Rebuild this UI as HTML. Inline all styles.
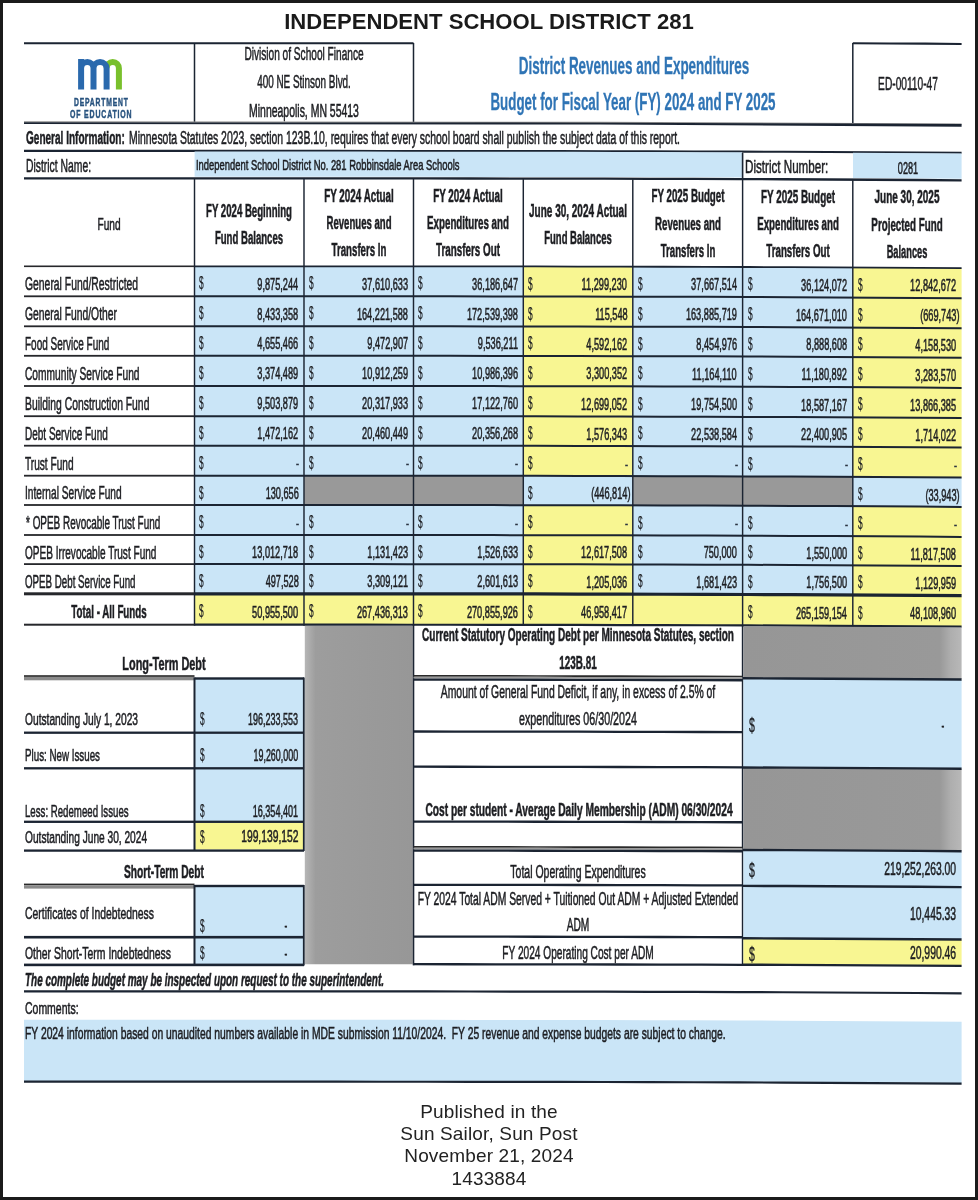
<!DOCTYPE html>
<html lang="en"><head><meta charset="utf-8"><title>Independent School District 281</title>
<style>
html,body{margin:0;padding:0;background:#fff;}
body{width:978px;height:1200px;position:relative;overflow:hidden;font-family:"Liberation Sans",sans-serif;color:#1d1e22;}
#frame{position:absolute;left:0;top:0;width:978px;height:1200px;box-sizing:border-box;border:3px solid #1b1b1b;z-index:5;pointer-events:none}
#scan{position:absolute;left:0;top:0;width:978px;height:1200px;filter:blur(0.4px)}
.r{position:absolute}
.t{position:absolute;white-space:pre;display:block;-webkit-text-stroke:0.55px currentColor}
.pt{position:absolute;left:0;width:978px;text-align:center;color:#1a1a1a;filter:blur(0.25px)}
</style></head><body>
<div id="frame"></div>
<div class="pt" style="top:8.5px;font-size:22.1px;line-height:26px;font-weight:bold">INDEPENDENT SCHOOL DISTRICT 281</div>
<div id="scan">
<svg class="r" style="left:0;top:0" width="978" height="1200" viewBox="0 0 978 1200">
<defs>
<linearGradient id="gL" x1="0" y1="0" x2="1" y2="0"><stop offset="0" stop-color="#b6b6b6"/><stop offset="0.1" stop-color="#9d9d9d"/><stop offset="1" stop-color="#979797"/></linearGradient>
<linearGradient id="gR" x1="0" y1="0" x2="1" y2="0"><stop offset="0" stop-color="#969696"/><stop offset="0.9" stop-color="#999999"/><stop offset="0.95" stop-color="#aeaeae"/><stop offset="1" stop-color="#b8b8b8"/></linearGradient>
</defs>
<polygon points="24.0,42.20 67.3,42.20 110.6,42.20 153.8,42.20 197.1,42.20 240.4,42.20 283.7,42.20 326.9,42.21 370.2,42.22 413.5,42.24 413.5,44.24 370.2,44.22 326.9,44.21 283.7,44.20 240.4,44.20 197.1,44.20 153.8,44.20 110.6,44.20 67.3,44.20 24.0,44.20" fill="#1b2432"/>
<polygon points="852.8,42.17 889.1,42.39 925.3,42.62 961.6,42.88 961.6,45.08 925.3,44.82 889.1,44.59 852.8,44.37" fill="#1b2432"/>
<rect x="193.75" y="43.00" width="1.50" height="79.00" fill="#1b2432"/>
<rect x="412.75" y="43.00" width="1.50" height="79.00" fill="#1b2432"/>
<rect x="852.05" y="43.00" width="1.50" height="81.00" fill="#1b2432"/>
<polygon points="24,121.3 600,121.8 961.6,123.4 961.6,124.6 600,123.0 24,122.5" fill="#8d8d8d"/>
<polygon points="24,122.2 600,122.7 961.6,123.9 961.6,126.7 600,124.5 24,123.9" fill="#1b2432"/>
<polygon points="24.0,149.85 68.6,149.85 113.3,149.85 157.9,149.85 202.6,149.85 247.2,149.85 291.9,149.85 336.5,149.86 381.2,149.88 425.8,149.90 470.5,149.94 515.1,149.99 559.8,150.06 604.4,150.14 649.1,150.25 693.7,150.38 738.4,150.54 783.0,150.72 827.7,150.93 872.3,151.18 917.0,151.46 961.6,151.77 961.6,153.87 917.0,153.56 872.3,153.28 827.7,153.03 783.0,152.82 738.4,152.64 693.7,152.48 649.1,152.35 604.4,152.24 559.8,152.16 515.1,152.09 470.5,152.04 425.8,152.00 381.2,151.98 336.5,151.96 291.9,151.95 247.2,151.95 202.6,151.95 157.9,151.95 113.3,151.95 68.6,151.95 24.0,151.95" fill="#1b2432"/>
<polygon points="194.6,151.60 236.7,151.60 278.8,151.60 320.9,151.61 363.0,151.62 405.1,151.64 447.2,151.67 489.4,151.71 531.5,151.76 573.6,151.83 615.7,151.92 657.8,152.02 699.9,152.15 742.0,152.30 742.0,177.50 699.9,177.35 657.8,177.22 615.7,177.12 573.6,177.03 531.5,176.96 489.4,176.91 447.2,176.87 405.1,176.84 363.0,176.82 320.9,176.81 278.8,176.80 236.7,176.80 194.6,176.80" fill="#cae5f7"/>
<polygon points="853.0,152.82 889.2,153.03 925.4,153.26 961.6,153.52 961.6,178.72 925.4,178.46 889.2,178.23 853.0,178.02" fill="#cae5f7"/>
<rect x="741.80" y="153.00" width="1.60" height="26.00" fill="#1b2432"/>
<polygon points="24.0,177.25 68.6,177.25 113.3,177.25 157.9,177.25 202.6,177.25 247.2,177.25 291.9,177.25 336.5,177.26 381.2,177.28 425.8,177.30 470.5,177.34 515.1,177.39 559.8,177.46 604.4,177.54 649.1,177.65 693.7,177.78 738.4,177.94 783.0,178.12 827.7,178.33 872.3,178.58 917.0,178.86 961.6,179.17 961.6,181.47 917.0,181.16 872.3,180.88 827.7,180.63 783.0,180.42 738.4,180.24 693.7,180.08 649.1,179.95 604.4,179.84 559.8,179.76 515.1,179.69 470.5,179.64 425.8,179.60 381.2,179.58 336.5,179.56 291.9,179.55 247.2,179.55 202.6,179.55 157.9,179.55 113.3,179.55 68.6,179.55 24.0,179.55" fill="#1b2432"/>
<rect x="194.50" y="266.30" width="109.50" height="30.00" fill="#cae5f7"/>
<polygon points="304.0,266.31 340.5,266.31 377.0,266.33 413.5,266.34 413.5,296.34 377.0,296.33 340.5,296.31 304.0,296.31" fill="#cae5f7"/>
<polygon points="413.5,266.34 450.1,266.37 486.7,266.41 523.3,266.45 523.3,296.45 486.7,296.41 450.1,296.37 413.5,296.34" fill="#cae5f7"/>
<polygon points="523.3,266.45 559.8,266.51 596.3,266.58 632.8,266.66 632.8,296.66 596.3,296.58 559.8,296.51 523.3,296.45" fill="#f8f692"/>
<polygon points="632.8,266.66 669.4,266.76 706.0,266.87 742.6,267.00 742.6,297.00 706.0,296.87 669.4,296.76 632.8,296.66" fill="#cae5f7"/>
<polygon points="742.6,267.00 779.3,267.15 816.1,267.32 852.8,267.52 852.8,297.52 816.1,297.32 779.3,297.15 742.6,297.00" fill="#cae5f7"/>
<polygon points="852.8,267.52 889.1,267.73 925.3,267.96 961.6,268.22 961.6,298.22 925.3,297.96 889.1,297.73 852.8,297.52" fill="#f8f692"/>
<rect x="194.50" y="296.30" width="109.50" height="30.00" fill="#cae5f7"/>
<polygon points="304.0,296.31 340.5,296.31 377.0,296.33 413.5,296.34 413.5,326.34 377.0,326.33 340.5,326.31 304.0,326.31" fill="#cae5f7"/>
<polygon points="413.5,296.34 450.1,296.37 486.7,296.41 523.3,296.45 523.3,326.45 486.7,326.41 450.1,326.37 413.5,326.34" fill="#cae5f7"/>
<polygon points="523.3,296.45 559.8,296.51 596.3,296.58 632.8,296.66 632.8,326.66 596.3,326.58 559.8,326.51 523.3,326.45" fill="#f8f692"/>
<polygon points="632.8,296.66 669.4,296.76 706.0,296.87 742.6,297.00 742.6,327.00 706.0,326.87 669.4,326.76 632.8,326.66" fill="#cae5f7"/>
<polygon points="742.6,297.00 779.3,297.15 816.1,297.32 852.8,297.52 852.8,327.52 816.1,327.32 779.3,327.15 742.6,327.00" fill="#cae5f7"/>
<polygon points="852.8,297.52 889.1,297.73 925.3,297.96 961.6,298.22 961.6,328.22 925.3,327.96 889.1,327.73 852.8,327.52" fill="#f8f692"/>
<rect x="194.50" y="326.30" width="109.50" height="29.50" fill="#cae5f7"/>
<polygon points="304.0,326.31 340.5,326.31 377.0,326.33 413.5,326.34 413.5,355.84 377.0,355.83 340.5,355.81 304.0,355.81" fill="#cae5f7"/>
<polygon points="413.5,326.34 450.1,326.37 486.7,326.41 523.3,326.45 523.3,355.95 486.7,355.91 450.1,355.87 413.5,355.84" fill="#cae5f7"/>
<polygon points="523.3,326.45 559.8,326.51 596.3,326.58 632.8,326.66 632.8,356.16 596.3,356.08 559.8,356.01 523.3,355.95" fill="#f8f692"/>
<polygon points="632.8,326.66 669.4,326.76 706.0,326.87 742.6,327.00 742.6,356.50 706.0,356.37 669.4,356.26 632.8,356.16" fill="#cae5f7"/>
<polygon points="742.6,327.00 779.3,327.15 816.1,327.32 852.8,327.52 852.8,357.02 816.1,356.82 779.3,356.65 742.6,356.50" fill="#cae5f7"/>
<polygon points="852.8,327.52 889.1,327.73 925.3,327.96 961.6,328.22 961.6,357.72 925.3,357.46 889.1,357.23 852.8,357.02" fill="#f8f692"/>
<rect x="194.50" y="355.80" width="109.50" height="30.20" fill="#cae5f7"/>
<polygon points="304.0,355.81 340.5,355.81 377.0,355.83 413.5,355.84 413.5,386.04 377.0,386.03 340.5,386.01 304.0,386.01" fill="#cae5f7"/>
<polygon points="413.5,355.84 450.1,355.87 486.7,355.91 523.3,355.95 523.3,386.15 486.7,386.11 450.1,386.07 413.5,386.04" fill="#cae5f7"/>
<polygon points="523.3,355.95 559.8,356.01 596.3,356.08 632.8,356.16 632.8,386.36 596.3,386.28 559.8,386.21 523.3,386.15" fill="#f8f692"/>
<polygon points="632.8,356.16 669.4,356.26 706.0,356.37 742.6,356.50 742.6,386.70 706.0,386.57 669.4,386.46 632.8,386.36" fill="#cae5f7"/>
<polygon points="742.6,356.50 779.3,356.65 816.1,356.82 852.8,357.02 852.8,387.22 816.1,387.02 779.3,386.85 742.6,386.70" fill="#cae5f7"/>
<polygon points="852.8,357.02 889.1,357.23 925.3,357.46 961.6,357.72 961.6,387.92 925.3,387.66 889.1,387.43 852.8,387.22" fill="#f8f692"/>
<rect x="194.50" y="386.00" width="109.50" height="30.20" fill="#cae5f7"/>
<polygon points="304.0,386.01 340.5,386.01 377.0,386.03 413.5,386.04 413.5,416.24 377.0,416.23 340.5,416.21 304.0,416.21" fill="#cae5f7"/>
<polygon points="413.5,386.04 450.1,386.07 486.7,386.11 523.3,386.15 523.3,416.35 486.7,416.31 450.1,416.27 413.5,416.24" fill="#cae5f7"/>
<polygon points="523.3,386.15 559.8,386.21 596.3,386.28 632.8,386.36 632.8,416.56 596.3,416.48 559.8,416.41 523.3,416.35" fill="#f8f692"/>
<polygon points="632.8,386.36 669.4,386.46 706.0,386.57 742.6,386.70 742.6,416.90 706.0,416.77 669.4,416.66 632.8,416.56" fill="#cae5f7"/>
<polygon points="742.6,386.70 779.3,386.85 816.1,387.02 852.8,387.22 852.8,417.42 816.1,417.22 779.3,417.05 742.6,416.90" fill="#cae5f7"/>
<polygon points="852.8,387.22 889.1,387.43 925.3,387.66 961.6,387.92 961.6,418.12 925.3,417.86 889.1,417.63 852.8,417.42" fill="#f8f692"/>
<rect x="194.50" y="416.20" width="109.50" height="29.50" fill="#cae5f7"/>
<polygon points="304.0,416.21 340.5,416.21 377.0,416.23 413.5,416.24 413.5,445.74 377.0,445.73 340.5,445.71 304.0,445.71" fill="#cae5f7"/>
<polygon points="413.5,416.24 450.1,416.27 486.7,416.31 523.3,416.35 523.3,445.85 486.7,445.81 450.1,445.77 413.5,445.74" fill="#cae5f7"/>
<polygon points="523.3,416.35 559.8,416.41 596.3,416.48 632.8,416.56 632.8,446.06 596.3,445.98 559.8,445.91 523.3,445.85" fill="#f8f692"/>
<polygon points="632.8,416.56 669.4,416.66 706.0,416.77 742.6,416.90 742.6,446.40 706.0,446.27 669.4,446.16 632.8,446.06" fill="#cae5f7"/>
<polygon points="742.6,416.90 779.3,417.05 816.1,417.22 852.8,417.42 852.8,446.92 816.1,446.72 779.3,446.55 742.6,446.40" fill="#cae5f7"/>
<polygon points="852.8,417.42 889.1,417.63 925.3,417.86 961.6,418.12 961.6,447.62 925.3,447.36 889.1,447.13 852.8,446.92" fill="#f8f692"/>
<rect x="194.50" y="445.70" width="109.50" height="30.00" fill="#cae5f7"/>
<polygon points="304.0,445.71 340.5,445.71 377.0,445.73 413.5,445.74 413.5,475.74 377.0,475.73 340.5,475.71 304.0,475.71" fill="#cae5f7"/>
<polygon points="413.5,445.74 450.1,445.77 486.7,445.81 523.3,445.85 523.3,475.85 486.7,475.81 450.1,475.77 413.5,475.74" fill="#cae5f7"/>
<polygon points="523.3,445.85 559.8,445.91 596.3,445.98 632.8,446.06 632.8,476.06 596.3,475.98 559.8,475.91 523.3,475.85" fill="#f8f692"/>
<polygon points="632.8,446.06 669.4,446.16 706.0,446.27 742.6,446.40 742.6,476.40 706.0,476.27 669.4,476.16 632.8,476.06" fill="#cae5f7"/>
<polygon points="742.6,446.40 779.3,446.55 816.1,446.72 852.8,446.92 852.8,476.92 816.1,476.72 779.3,476.55 742.6,476.40" fill="#cae5f7"/>
<polygon points="852.8,446.92 889.1,447.13 925.3,447.36 961.6,447.62 961.6,477.62 925.3,477.36 889.1,477.13 852.8,476.92" fill="#f8f692"/>
<rect x="194.50" y="475.70" width="109.50" height="29.30" fill="#cae5f7"/>
<polygon points="304.0,475.71 340.5,475.71 377.0,475.73 413.5,475.74 413.5,505.04 377.0,505.03 340.5,505.01 304.0,505.01" fill="#999999"/>
<polygon points="413.5,475.74 450.1,475.77 486.7,475.81 523.3,475.85 523.3,505.15 486.7,505.11 450.1,505.07 413.5,505.04" fill="#999999"/>
<polygon points="523.3,475.85 559.8,475.91 596.3,475.98 632.8,476.06 632.8,505.36 596.3,505.28 559.8,505.21 523.3,505.15" fill="#cae5f7"/>
<polygon points="632.8,476.06 669.4,476.16 706.0,476.27 742.6,476.40 742.6,505.70 706.0,505.57 669.4,505.46 632.8,505.36" fill="#999999"/>
<polygon points="742.6,476.40 779.3,476.55 816.1,476.72 852.8,476.92 852.8,506.22 816.1,506.02 779.3,505.85 742.6,505.70" fill="#999999"/>
<polygon points="852.8,476.92 889.1,477.13 925.3,477.36 961.6,477.62 961.6,506.92 925.3,506.66 889.1,506.43 852.8,506.22" fill="#cae5f7"/>
<rect x="194.50" y="505.00" width="109.50" height="30.00" fill="#cae5f7"/>
<polygon points="304.0,505.01 340.5,505.01 377.0,505.03 413.5,505.04 413.5,535.04 377.0,535.03 340.5,535.01 304.0,535.01" fill="#cae5f7"/>
<polygon points="413.5,505.04 450.1,505.07 486.7,505.11 523.3,505.15 523.3,535.15 486.7,535.11 450.1,535.07 413.5,535.04" fill="#cae5f7"/>
<polygon points="523.3,505.15 559.8,505.21 596.3,505.28 632.8,505.36 632.8,535.36 596.3,535.28 559.8,535.21 523.3,535.15" fill="#f8f692"/>
<polygon points="632.8,505.36 669.4,505.46 706.0,505.57 742.6,505.70 742.6,535.70 706.0,535.57 669.4,535.46 632.8,535.36" fill="#cae5f7"/>
<polygon points="742.6,505.70 779.3,505.85 816.1,506.02 852.8,506.22 852.8,536.22 816.1,536.02 779.3,535.85 742.6,535.70" fill="#cae5f7"/>
<polygon points="852.8,506.22 889.1,506.43 925.3,506.66 961.6,506.92 961.6,536.92 925.3,536.66 889.1,536.43 852.8,536.22" fill="#f8f692"/>
<rect x="194.50" y="535.00" width="109.50" height="29.10" fill="#cae5f7"/>
<polygon points="304.0,535.01 340.5,535.01 377.0,535.03 413.5,535.04 413.5,564.14 377.0,564.13 340.5,564.11 304.0,564.11" fill="#cae5f7"/>
<polygon points="413.5,535.04 450.1,535.07 486.7,535.11 523.3,535.15 523.3,564.25 486.7,564.21 450.1,564.17 413.5,564.14" fill="#cae5f7"/>
<polygon points="523.3,535.15 559.8,535.21 596.3,535.28 632.8,535.36 632.8,564.46 596.3,564.38 559.8,564.31 523.3,564.25" fill="#f8f692"/>
<polygon points="632.8,535.36 669.4,535.46 706.0,535.57 742.6,535.70 742.6,564.80 706.0,564.67 669.4,564.56 632.8,564.46" fill="#cae5f7"/>
<polygon points="742.6,535.70 779.3,535.85 816.1,536.02 852.8,536.22 852.8,565.32 816.1,565.12 779.3,564.95 742.6,564.80" fill="#cae5f7"/>
<polygon points="852.8,536.22 889.1,536.43 925.3,536.66 961.6,536.92 961.6,566.02 925.3,565.76 889.1,565.53 852.8,565.32" fill="#f8f692"/>
<rect x="194.50" y="564.10" width="109.50" height="29.70" fill="#cae5f7"/>
<polygon points="304.0,564.11 340.5,564.11 377.0,564.13 413.5,564.14 413.5,593.84 377.0,593.83 340.5,593.81 304.0,593.81" fill="#cae5f7"/>
<polygon points="413.5,564.14 450.1,564.17 486.7,564.21 523.3,564.25 523.3,593.95 486.7,593.91 450.1,593.87 413.5,593.84" fill="#cae5f7"/>
<polygon points="523.3,564.25 559.8,564.31 596.3,564.38 632.8,564.46 632.8,594.16 596.3,594.08 559.8,594.01 523.3,593.95" fill="#f8f692"/>
<polygon points="632.8,564.46 669.4,564.56 706.0,564.67 742.6,564.80 742.6,594.50 706.0,594.37 669.4,594.26 632.8,594.16" fill="#cae5f7"/>
<polygon points="742.6,564.80 779.3,564.95 816.1,565.12 852.8,565.32 852.8,595.02 816.1,594.82 779.3,594.65 742.6,594.50" fill="#cae5f7"/>
<polygon points="852.8,565.32 889.1,565.53 925.3,565.76 961.6,566.02 961.6,595.72 925.3,595.46 889.1,595.23 852.8,595.02" fill="#f8f692"/>
<rect x="194.50" y="593.80" width="109.50" height="30.90" fill="#f8f692"/>
<polygon points="304.0,593.81 340.5,593.81 377.0,593.83 413.5,593.84 413.5,624.74 377.0,624.73 340.5,624.71 304.0,624.71" fill="#f8f692"/>
<polygon points="413.5,593.84 450.1,593.87 486.7,593.91 523.3,593.95 523.3,624.85 486.7,624.81 450.1,624.77 413.5,624.74" fill="#f8f692"/>
<polygon points="523.3,593.95 559.8,594.01 596.3,594.08 632.8,594.16 632.8,625.06 596.3,624.98 559.8,624.91 523.3,624.85" fill="#f8f692"/>
<polygon points="632.8,594.16 669.4,594.26 706.0,594.37 742.6,594.50 742.6,625.40 706.0,625.27 669.4,625.16 632.8,625.06" fill="#f8f692"/>
<polygon points="742.6,594.50 779.3,594.65 816.1,594.82 852.8,595.02 852.8,625.92 816.1,625.72 779.3,625.55 742.6,625.40" fill="#f8f692"/>
<polygon points="852.8,595.02 889.1,595.23 925.3,595.46 961.6,595.72 961.6,626.62 925.3,626.36 889.1,626.13 852.8,625.92" fill="#f8f692"/>
<rect x="24.00" y="265.50" width="170.50" height="1.60" fill="#26272b"/>
<polygon points="194.5,265.40 237.1,265.40 279.7,265.40 322.4,265.41 365.0,265.42 407.6,265.44 450.2,265.47 492.8,265.51 535.4,265.57 578.0,265.64 620.7,265.73 663.3,265.84 705.9,265.97 748.5,266.12 791.1,266.30 833.8,266.51 876.4,266.75 919.0,267.02 961.6,267.32 961.6,269.12 919.0,268.82 876.4,268.55 833.8,268.31 791.1,268.10 748.5,267.92 705.9,267.77 663.3,267.64 620.7,267.53 578.0,267.44 535.4,267.37 492.8,267.31 450.2,267.27 407.6,267.24 365.0,267.22 322.4,267.21 279.7,267.20 237.1,267.20 194.5,267.20" fill="#1b2432"/>
<rect x="24.00" y="295.40" width="170.50" height="1.80" fill="#26272b"/>
<polygon points="194.5,295.30 237.1,295.30 279.7,295.30 322.4,295.31 365.0,295.32 407.6,295.34 450.2,295.37 492.8,295.41 535.4,295.47 578.0,295.54 620.7,295.63 663.3,295.74 705.9,295.87 748.5,296.02 791.1,296.20 833.8,296.41 876.4,296.65 919.0,296.92 961.6,297.22 961.6,299.22 919.0,298.92 876.4,298.65 833.8,298.41 791.1,298.20 748.5,298.02 705.9,297.87 663.3,297.74 620.7,297.63 578.0,297.54 535.4,297.47 492.8,297.41 450.2,297.37 407.6,297.34 365.0,297.32 322.4,297.31 279.7,297.30 237.1,297.30 194.5,297.30" fill="#1b2432"/>
<rect x="24.00" y="325.40" width="170.50" height="1.80" fill="#26272b"/>
<polygon points="194.5,325.30 237.1,325.30 279.7,325.30 322.4,325.31 365.0,325.32 407.6,325.34 450.2,325.37 492.8,325.41 535.4,325.47 578.0,325.54 620.7,325.63 663.3,325.74 705.9,325.87 748.5,326.02 791.1,326.20 833.8,326.41 876.4,326.65 919.0,326.92 961.6,327.22 961.6,329.22 919.0,328.92 876.4,328.65 833.8,328.41 791.1,328.20 748.5,328.02 705.9,327.87 663.3,327.74 620.7,327.63 578.0,327.54 535.4,327.47 492.8,327.41 450.2,327.37 407.6,327.34 365.0,327.32 322.4,327.31 279.7,327.30 237.1,327.30 194.5,327.30" fill="#1b2432"/>
<rect x="24.00" y="354.90" width="170.50" height="1.80" fill="#26272b"/>
<polygon points="194.5,354.80 237.1,354.80 279.7,354.80 322.4,354.81 365.0,354.82 407.6,354.84 450.2,354.87 492.8,354.91 535.4,354.97 578.0,355.04 620.7,355.13 663.3,355.24 705.9,355.37 748.5,355.52 791.1,355.70 833.8,355.91 876.4,356.15 919.0,356.42 961.6,356.72 961.6,358.72 919.0,358.42 876.4,358.15 833.8,357.91 791.1,357.70 748.5,357.52 705.9,357.37 663.3,357.24 620.7,357.13 578.0,357.04 535.4,356.97 492.8,356.91 450.2,356.87 407.6,356.84 365.0,356.82 322.4,356.81 279.7,356.80 237.1,356.80 194.5,356.80" fill="#1b2432"/>
<rect x="24.00" y="385.10" width="170.50" height="1.80" fill="#26272b"/>
<polygon points="194.5,385.00 237.1,385.00 279.7,385.00 322.4,385.01 365.0,385.02 407.6,385.04 450.2,385.07 492.8,385.11 535.4,385.17 578.0,385.24 620.7,385.33 663.3,385.44 705.9,385.57 748.5,385.72 791.1,385.90 833.8,386.11 876.4,386.35 919.0,386.62 961.6,386.92 961.6,388.92 919.0,388.62 876.4,388.35 833.8,388.11 791.1,387.90 748.5,387.72 705.9,387.57 663.3,387.44 620.7,387.33 578.0,387.24 535.4,387.17 492.8,387.11 450.2,387.07 407.6,387.04 365.0,387.02 322.4,387.01 279.7,387.00 237.1,387.00 194.5,387.00" fill="#1b2432"/>
<rect x="24.00" y="415.30" width="170.50" height="1.80" fill="#26272b"/>
<polygon points="194.5,415.20 237.1,415.20 279.7,415.20 322.4,415.21 365.0,415.22 407.6,415.24 450.2,415.27 492.8,415.31 535.4,415.37 578.0,415.44 620.7,415.53 663.3,415.64 705.9,415.77 748.5,415.92 791.1,416.10 833.8,416.31 876.4,416.55 919.0,416.82 961.6,417.12 961.6,419.12 919.0,418.82 876.4,418.55 833.8,418.31 791.1,418.10 748.5,417.92 705.9,417.77 663.3,417.64 620.7,417.53 578.0,417.44 535.4,417.37 492.8,417.31 450.2,417.27 407.6,417.24 365.0,417.22 322.4,417.21 279.7,417.20 237.1,417.20 194.5,417.20" fill="#1b2432"/>
<rect x="24.00" y="444.80" width="170.50" height="1.80" fill="#26272b"/>
<polygon points="194.5,444.70 237.1,444.70 279.7,444.70 322.4,444.71 365.0,444.72 407.6,444.74 450.2,444.77 492.8,444.81 535.4,444.87 578.0,444.94 620.7,445.03 663.3,445.14 705.9,445.27 748.5,445.42 791.1,445.60 833.8,445.81 876.4,446.05 919.0,446.32 961.6,446.62 961.6,448.62 919.0,448.32 876.4,448.05 833.8,447.81 791.1,447.60 748.5,447.42 705.9,447.27 663.3,447.14 620.7,447.03 578.0,446.94 535.4,446.87 492.8,446.81 450.2,446.77 407.6,446.74 365.0,446.72 322.4,446.71 279.7,446.70 237.1,446.70 194.5,446.70" fill="#1b2432"/>
<rect x="24.00" y="474.80" width="170.50" height="1.80" fill="#26272b"/>
<polygon points="194.5,474.70 237.1,474.70 279.7,474.70 322.4,474.71 365.0,474.72 407.6,474.74 450.2,474.77 492.8,474.81 535.4,474.87 578.0,474.94 620.7,475.03 663.3,475.14 705.9,475.27 748.5,475.42 791.1,475.60 833.8,475.81 876.4,476.05 919.0,476.32 961.6,476.62 961.6,478.62 919.0,478.32 876.4,478.05 833.8,477.81 791.1,477.60 748.5,477.42 705.9,477.27 663.3,477.14 620.7,477.03 578.0,476.94 535.4,476.87 492.8,476.81 450.2,476.77 407.6,476.74 365.0,476.72 322.4,476.71 279.7,476.70 237.1,476.70 194.5,476.70" fill="#1b2432"/>
<rect x="24.00" y="504.10" width="170.50" height="1.80" fill="#26272b"/>
<polygon points="194.5,504.00 237.1,504.00 279.7,504.00 322.4,504.01 365.0,504.02 407.6,504.04 450.2,504.07 492.8,504.11 535.4,504.17 578.0,504.24 620.7,504.33 663.3,504.44 705.9,504.57 748.5,504.72 791.1,504.90 833.8,505.11 876.4,505.35 919.0,505.62 961.6,505.92 961.6,507.92 919.0,507.62 876.4,507.35 833.8,507.11 791.1,506.90 748.5,506.72 705.9,506.57 663.3,506.44 620.7,506.33 578.0,506.24 535.4,506.17 492.8,506.11 450.2,506.07 407.6,506.04 365.0,506.02 322.4,506.01 279.7,506.00 237.1,506.00 194.5,506.00" fill="#1b2432"/>
<rect x="24.00" y="534.10" width="170.50" height="1.80" fill="#26272b"/>
<polygon points="194.5,534.00 237.1,534.00 279.7,534.00 322.4,534.01 365.0,534.02 407.6,534.04 450.2,534.07 492.8,534.11 535.4,534.17 578.0,534.24 620.7,534.33 663.3,534.44 705.9,534.57 748.5,534.72 791.1,534.90 833.8,535.11 876.4,535.35 919.0,535.62 961.6,535.92 961.6,537.92 919.0,537.62 876.4,537.35 833.8,537.11 791.1,536.90 748.5,536.72 705.9,536.57 663.3,536.44 620.7,536.33 578.0,536.24 535.4,536.17 492.8,536.11 450.2,536.07 407.6,536.04 365.0,536.02 322.4,536.01 279.7,536.00 237.1,536.00 194.5,536.00" fill="#1b2432"/>
<rect x="24.00" y="563.20" width="170.50" height="1.80" fill="#26272b"/>
<polygon points="194.5,563.10 237.1,563.10 279.7,563.10 322.4,563.11 365.0,563.12 407.6,563.14 450.2,563.17 492.8,563.21 535.4,563.27 578.0,563.34 620.7,563.43 663.3,563.54 705.9,563.67 748.5,563.82 791.1,564.00 833.8,564.21 876.4,564.45 919.0,564.72 961.6,565.02 961.6,567.02 919.0,566.72 876.4,566.45 833.8,566.21 791.1,566.00 748.5,565.82 705.9,565.67 663.3,565.54 620.7,565.43 578.0,565.34 535.4,565.27 492.8,565.21 450.2,565.17 407.6,565.14 365.0,565.12 322.4,565.11 279.7,565.10 237.1,565.10 194.5,565.10" fill="#1b2432"/>
<rect x="24.00" y="592.30" width="170.50" height="3.00" fill="#26272b"/>
<polygon points="194.5,592.20 237.1,592.20 279.7,592.20 322.4,592.21 365.0,592.22 407.6,592.24 450.2,592.27 492.8,592.31 535.4,592.37 578.0,592.44 620.7,592.53 663.3,592.64 705.9,592.77 748.5,592.92 791.1,593.10 833.8,593.31 876.4,593.55 919.0,593.82 961.6,594.12 961.6,597.32 919.0,597.02 876.4,596.75 833.8,596.51 791.1,596.30 748.5,596.12 705.9,595.97 663.3,595.84 620.7,595.73 578.0,595.64 535.4,595.57 492.8,595.51 450.2,595.47 407.6,595.44 365.0,595.42 322.4,595.41 279.7,595.40 237.1,595.40 194.5,595.40" fill="#1b2432"/>
<rect x="24.00" y="623.70" width="170.50" height="2.00" fill="#26272b"/>
<polygon points="194.5,623.60 237.1,623.60 279.7,623.60 322.4,623.61 365.0,623.62 407.6,623.64 450.2,623.67 492.8,623.71 535.4,623.77 578.0,623.84 620.7,623.93 663.3,624.04 705.9,624.17 748.5,624.32 791.1,624.50 833.8,624.71 876.4,624.95 919.0,625.22 961.6,625.52 961.6,627.72 919.0,627.42 876.4,627.15 833.8,626.91 791.1,626.70 748.5,626.52 705.9,626.37 663.3,626.24 620.7,626.13 578.0,626.04 535.4,625.97 492.8,625.91 450.2,625.87 407.6,625.84 365.0,625.82 322.4,625.81 279.7,625.80 237.1,625.80 194.5,625.80" fill="#1b2432"/>
<rect x="193.78" y="179.00" width="1.45" height="446.70" fill="#1b2432"/>
<rect x="303.27" y="179.01" width="1.45" height="446.70" fill="#1b2432"/>
<rect x="412.77" y="179.04" width="1.45" height="446.70" fill="#1b2432"/>
<rect x="522.57" y="179.15" width="1.45" height="446.70" fill="#1b2432"/>
<rect x="632.07" y="179.36" width="1.45" height="446.70" fill="#1b2432"/>
<rect x="741.88" y="179.70" width="1.45" height="446.70" fill="#1b2432"/>
<rect x="852.07" y="180.22" width="1.45" height="446.70" fill="#1b2432"/>
<polygon points="304.8,625.91 340.8,625.91 376.7,625.93 412.7,625.94 412.7,964.34 376.7,964.33 340.8,964.31 304.8,964.31" fill="url(#gL)"/>
<rect x="412.70" y="624.74" width="1.60" height="340.60" fill="#1b2432"/>
<rect x="741.80" y="625.40" width="1.60" height="340.60" fill="#1b2432"/>
<rect x="24.00" y="675.20" width="170.50" height="1.70" fill="#2a2a2a"/>
<rect x="24.00" y="676.90" width="170.50" height="3.40" fill="#8a8a8a"/>
<rect x="195.20" y="679.00" width="108.10" height="143.00" fill="#cae5f7"/>
<rect x="195.20" y="823.00" width="108.10" height="26.50" fill="#f8f692"/>
<rect x="194.50" y="677.30" width="109.50" height="2.40" fill="#1b2432"/>
<rect x="193.50" y="677.50" width="2.00" height="173.50" fill="#1b2432"/>
<rect x="302.90" y="677.50" width="1.80" height="173.50" fill="#1b2432"/>
<rect x="24.00" y="731.55" width="280.00" height="2.30" fill="#1b2432"/>
<rect x="24.00" y="767.15" width="280.00" height="2.30" fill="#1b2432"/>
<rect x="24.00" y="820.65" width="280.00" height="2.30" fill="#1b2432"/>
<rect x="24.00" y="849.45" width="280.00" height="2.30" fill="#1b2432"/>
<rect x="24.00" y="883.60" width="170.50" height="1.70" fill="#2a2a2a"/>
<rect x="24.00" y="885.30" width="170.50" height="3.30" fill="#8a8a8a"/>
<rect x="195.20" y="886.00" width="108.10" height="78.00" fill="#cae5f7"/>
<rect x="194.50" y="884.80" width="109.50" height="2.40" fill="#1b2432"/>
<rect x="193.50" y="885.00" width="2.00" height="80.50" fill="#1b2432"/>
<rect x="302.90" y="885.00" width="1.80" height="80.50" fill="#1b2432"/>
<rect x="24.00" y="935.90" width="280.00" height="2.60" fill="#1b2432"/>
<rect x="24.00" y="963.60" width="280.00" height="2.60" fill="#1b2432"/>
<polygon points="413.5,675.00 454.6,675.03 495.8,675.08 536.9,675.13 578.0,675.20 619.2,675.29 660.3,675.39 701.5,675.51 742.6,675.66 742.6,677.36 701.5,677.21 660.3,677.09 619.2,676.99 578.0,676.90 536.9,676.83 495.8,676.78 454.6,676.73 413.5,676.70" fill="#2a2a2a"/>
<polygon points="413.5,676.70 454.6,676.73 495.8,676.78 536.9,676.83 578.0,676.90 619.2,676.99 660.3,677.09 701.5,677.21 742.6,677.36 742.6,679.06 701.5,678.91 660.3,678.79 619.2,678.69 578.0,678.60 536.9,678.53 495.8,678.48 454.6,678.43 413.5,678.40" fill="#9a9a9a"/>
<polygon points="413.5,678.45 454.6,678.48 495.8,678.53 536.9,678.58 578.0,678.65 619.2,678.74 660.3,678.84 701.5,678.96 742.6,679.11 742.6,681.41 701.5,681.26 660.3,681.14 619.2,681.04 578.0,680.95 536.9,680.88 495.8,680.83 454.6,680.78 413.5,680.75" fill="#1b2432"/>
<polygon points="413.5,730.35 454.6,730.38 495.8,730.43 536.9,730.48 578.0,730.55 619.2,730.64 660.3,730.74 701.5,730.86 742.6,731.01 742.6,733.31 701.5,733.16 660.3,733.04 619.2,732.94 578.0,732.85 536.9,732.78 495.8,732.73 454.6,732.68 413.5,732.65" fill="#1b2432"/>
<polygon points="413.5,765.55 454.6,765.58 495.8,765.63 536.9,765.68 578.0,765.75 619.2,765.84 660.3,765.94 701.5,766.06 742.6,766.21 742.6,768.51 701.5,768.36 660.3,768.24 619.2,768.14 578.0,768.05 536.9,767.98 495.8,767.93 454.6,767.88 413.5,767.85" fill="#1b2432"/>
<polygon points="413.5,820.45 454.6,820.48 495.8,820.53 536.9,820.58 578.0,820.65 619.2,820.74 660.3,820.84 701.5,820.96 742.6,821.11 742.6,823.41 701.5,823.26 660.3,823.14 619.2,823.04 578.0,822.95 536.9,822.88 495.8,822.83 454.6,822.78 413.5,822.75" fill="#1b2432"/>
<polygon points="413.5,846.00 454.6,846.03 495.8,846.08 536.9,846.13 578.0,846.20 619.2,846.29 660.3,846.39 701.5,846.51 742.6,846.66 742.6,848.36 701.5,848.21 660.3,848.09 619.2,847.99 578.0,847.90 536.9,847.83 495.8,847.78 454.6,847.73 413.5,847.70" fill="#2a2a2a"/>
<polygon points="413.5,847.70 454.6,847.73 495.8,847.78 536.9,847.83 578.0,847.90 619.2,847.99 660.3,848.09 701.5,848.21 742.6,848.36 742.6,850.06 701.5,849.91 660.3,849.79 619.2,849.69 578.0,849.60 536.9,849.53 495.8,849.48 454.6,849.43 413.5,849.40" fill="#9a9a9a"/>
<polygon points="413.5,849.45 454.6,849.48 495.8,849.53 536.9,849.58 578.0,849.65 619.2,849.74 660.3,849.84 701.5,849.96 742.6,850.11 742.6,852.41 701.5,852.26 660.3,852.14 619.2,852.04 578.0,851.95 536.9,851.88 495.8,851.83 454.6,851.78 413.5,851.75" fill="#1b2432"/>
<polygon points="413.5,883.65 454.6,883.68 495.8,883.73 536.9,883.78 578.0,883.85 619.2,883.94 660.3,884.04 701.5,884.16 742.6,884.31 742.6,886.61 701.5,886.46 660.3,886.34 619.2,886.24 578.0,886.15 536.9,886.08 495.8,886.03 454.6,885.98 413.5,885.95" fill="#1b2432"/>
<polygon points="413.5,935.45 454.6,935.48 495.8,935.53 536.9,935.58 578.0,935.65 619.2,935.74 660.3,935.84 701.5,935.96 742.6,936.11 742.6,938.41 701.5,938.26 660.3,938.14 619.2,938.04 578.0,937.95 536.9,937.88 495.8,937.83 454.6,937.78 413.5,937.75" fill="#1b2432"/>
<polygon points="413.5,963.05 454.6,963.08 495.8,963.13 536.9,963.18 578.0,963.25 619.2,963.34 660.3,963.44 701.5,963.56 742.6,963.71 742.6,966.01 701.5,965.86 660.3,965.74 619.2,965.64 578.0,965.55 536.9,965.48 495.8,965.43 454.6,965.38 413.5,965.35" fill="#1b2432"/>
<polygon points="743.4,626.39 787.0,626.57 830.7,626.78 874.3,627.02 918.0,627.30 961.6,627.61 961.6,679.01 918.0,678.70 874.3,678.42 830.7,678.18 787.0,677.97 743.4,677.79" fill="url(#gR)"/>
<polygon points="743.4,678.79 787.0,678.97 830.7,679.18 874.3,679.42 918.0,679.70 961.6,680.01 961.6,768.21 918.0,767.90 874.3,767.62 830.7,767.38 787.0,767.17 743.4,766.99" fill="#cae5f7"/>
<polygon points="743.4,767.99 787.0,768.17 830.7,768.38 874.3,768.62 918.0,768.90 961.6,769.21 961.6,850.71 918.0,850.40 874.3,850.12 830.7,849.88 787.0,849.67 743.4,849.49" fill="url(#gR)"/>
<polygon points="743.4,850.49 787.0,850.67 830.7,850.88 874.3,851.12 918.0,851.40 961.6,851.71 961.6,938.91 918.0,938.60 874.3,938.32 830.7,938.08 787.0,937.87 743.4,937.69" fill="#cae5f7"/>
<polygon points="743.4,938.49 787.0,938.67 830.7,938.88 874.3,939.12 918.0,939.40 961.6,939.71 961.6,965.31 918.0,965.00 874.3,964.72 830.7,964.48 787.0,964.27 743.4,964.09" fill="#f8f692"/>
<polygon points="742.6,677.09 786.4,677.27 830.2,677.48 874.0,677.73 917.8,678.00 961.6,678.31 961.6,680.71 917.8,680.40 874.0,680.13 830.2,679.88 786.4,679.67 742.6,679.49" fill="#1b2432"/>
<polygon points="742.6,766.29 786.4,766.47 830.2,766.68 874.0,766.93 917.8,767.20 961.6,767.51 961.6,769.91 917.8,769.60 874.0,769.33 830.2,769.08 786.4,768.87 742.6,768.69" fill="#1b2432"/>
<polygon points="742.6,848.79 786.4,848.97 830.2,849.18 874.0,849.43 917.8,849.70 961.6,850.01 961.6,852.41 917.8,852.10 874.0,851.83 830.2,851.58 786.4,851.37 742.6,851.19" fill="#1b2432"/>
<polygon points="742.6,884.69 786.4,884.87 830.2,885.08 874.0,885.33 917.8,885.60 961.6,885.91 961.6,888.31 917.8,888.00 874.0,887.73 830.2,887.48 786.4,887.27 742.6,887.09" fill="#1b2432"/>
<polygon points="742.6,937.09 786.4,937.27 830.2,937.48 874.0,937.73 917.8,938.00 961.6,938.31 961.6,940.71 917.8,940.40 874.0,940.13 830.2,939.88 786.4,939.67 742.6,939.49" fill="#1b2432"/>
<polygon points="742.6,963.49 786.4,963.67 830.2,963.88 874.0,964.13 917.8,964.40 961.6,964.71 961.6,967.11 917.8,966.80 874.0,966.53 830.2,966.28 786.4,966.07 742.6,965.89" fill="#1b2432"/>
<polygon points="24.0,990.30 68.6,990.30 113.3,990.30 157.9,990.30 202.6,990.30 247.2,990.30 291.9,990.30 336.5,990.31 381.2,990.33 425.8,990.35 470.5,990.39 515.1,990.44 559.8,990.51 604.4,990.59 649.1,990.70 693.7,990.83 738.4,990.99 783.0,991.17 827.7,991.38 872.3,991.63 917.0,991.91 961.6,992.22 961.6,994.42 917.0,994.11 872.3,993.83 827.7,993.58 783.0,993.37 738.4,993.19 693.7,993.03 649.1,992.90 604.4,992.79 559.8,992.71 515.1,992.64 470.5,992.59 425.8,992.55 381.2,992.53 336.5,992.51 291.9,992.50 247.2,992.50 202.6,992.50 157.9,992.50 113.3,992.50 68.6,992.50 24.0,992.50" fill="#1b2432"/>
<polygon points="24.0,1019.80 68.6,1019.80 113.3,1019.80 157.9,1019.80 202.6,1019.80 247.2,1019.80 291.9,1019.80 336.5,1019.81 381.2,1019.83 425.8,1019.85 470.5,1019.89 515.1,1019.94 559.8,1020.01 604.4,1020.09 649.1,1020.20 693.7,1020.33 738.4,1020.49 783.0,1020.67 827.7,1020.88 872.3,1021.13 917.0,1021.41 961.6,1021.72 961.6,1082.92 917.0,1082.61 872.3,1082.33 827.7,1082.08 783.0,1081.87 738.4,1081.69 693.7,1081.53 649.1,1081.40 604.4,1081.29 559.8,1081.21 515.1,1081.14 470.5,1081.09 425.8,1081.05 381.2,1081.03 336.5,1081.01 291.9,1081.00 247.2,1081.00 202.6,1081.00 157.9,1081.00 113.3,1081.00 68.6,1081.00 24.0,1081.00" fill="#cae5f7"/>
<polygon points="24.0,1080.60 68.6,1080.60 113.3,1080.60 157.9,1080.60 202.6,1080.60 247.2,1080.60 291.9,1080.60 336.5,1080.61 381.2,1080.63 425.8,1080.65 470.5,1080.69 515.1,1080.74 559.8,1080.81 604.4,1080.89 649.1,1081.00 693.7,1081.13 738.4,1081.29 783.0,1081.47 827.7,1081.68 872.3,1081.93 917.0,1082.21 961.6,1082.52 961.6,1084.72 917.0,1084.41 872.3,1084.13 827.7,1083.88 783.0,1083.67 738.4,1083.49 693.7,1083.33 649.1,1083.20 604.4,1083.09 559.8,1083.01 515.1,1082.94 470.5,1082.89 425.8,1082.85 381.2,1082.83 336.5,1082.81 291.9,1082.80 247.2,1082.80 202.6,1082.80 157.9,1082.80 113.3,1082.80 68.6,1082.80 24.0,1082.80" fill="#1b2432"/>
</svg>
<svg class="r" style="left:70px;top:52px" width="64" height="44" viewBox="70 52 64 44">
<g fill="none" stroke-width="6" stroke-linecap="butt" stroke-linejoin="round">
<path d="M106.6,68.3 A6.15,6.4 0 0 1 118.9,68.3 V89.6" stroke="#79c02c"/>
<path d="M81.1,89.6 V58.9 M81.1,68.3 A6.2,6.4 0 0 1 93.5,68.3 V89.6 M93.5,68.3 A6.55,6.4 0 0 1 106.6,68.3 V89.6" stroke="#2a69ad"/>
</g></svg>
<span class="t" style="left:73.8px;top:96.0px;font-size:10.5px;line-height:12.6px;font-weight:bold;color:#27527e;letter-spacing:1.3px;transform-origin:0 50%;transform:scaleX(0.642);-webkit-text-stroke:0.45px #27527e">DEPARTMENT</span>
<span class="t" style="left:69.7px;top:108.0px;font-size:10.5px;line-height:12.6px;font-weight:bold;color:#27527e;letter-spacing:1.3px;transform-origin:0 50%;transform:scaleX(0.659);-webkit-text-stroke:0.45px #27527e">OF EDUCATION</span>
<span class="t" style="top:44.4px;font-size:18px;line-height:21.6px;left:304.0px;transform-origin:50% 50%;transform:translateX(-50%) scaleX(0.562);">Division of School Finance</span>
<span class="t" style="top:71.9px;font-size:18px;line-height:21.6px;left:304.0px;transform-origin:50% 50%;transform:translateX(-50%) scaleX(0.551);">400 NE Stinson Blvd.</span>
<span class="t" style="top:100.5px;font-size:18px;line-height:21.6px;left:304.0px;transform-origin:50% 50%;transform:translateX(-50%) scaleX(0.581);">Minneapolis, MN 55413</span>
<span class="t" style="top:51.8px;font-size:24px;line-height:28.8px;font-weight:bold;color:#2f74b5;-webkit-text-stroke:0.3px currentColor;left:634.1px;transform-origin:50% 50%;transform:translateX(-50%) scaleX(0.561);">District Revenues and Expenditures</span>
<span class="t" style="top:87.5px;font-size:24px;line-height:28.8px;font-weight:bold;color:#2f74b5;-webkit-text-stroke:0.3px currentColor;left:632.8px;transform-origin:50% 50%;transform:translateX(-50%) scaleX(0.556);">Budget for Fiscal Year (FY) 2024 and FY 2025</span>
<span class="t" style="top:73.1px;font-size:19px;line-height:22.8px;left:907.8px;transform-origin:50% 50%;transform:translateX(-50%) scaleX(0.536);">ED-00110-47</span>
<span class="t" style="top:128.3px;font-size:18px;line-height:21.6px;font-weight:bold;left:25.6px;transform-origin:0 50%;transform:scaleX(0.558);">General Information:</span>
<span class="t" style="top:128.1px;font-size:18px;line-height:21.6px;left:128.5px;transform-origin:0 50%;transform:scaleX(0.579);">Minnesota Statutes 2023, section 123B.10, requires that every school board shall publish the subject data of this report.</span>
<span class="t" style="top:155.2px;font-size:18.5px;line-height:22.2px;left:25.6px;transform-origin:0 50%;transform:scaleX(0.560);">District Name:</span>
<span class="t" style="top:155.6px;font-size:15px;line-height:18.0px;left:195.7px;transform-origin:0 50%;transform:scaleX(0.627);">Independent School District No. 281 Robbinsdale Area Schools</span>
<span class="t" style="top:156.2px;font-size:19px;line-height:22.8px;left:745.3px;transform-origin:0 50%;transform:scaleX(0.612);">District Number:</span>
<span class="t" style="top:158.6px;font-size:16px;line-height:19.2px;left:907.6px;transform-origin:50% 50%;transform:translateX(-50%) scaleX(0.570);">0281</span>
<span class="t" style="top:215.0px;font-size:17px;line-height:20.4px;left:109.3px;transform-origin:50% 50%;transform:translateX(-50%) scaleX(0.596);">Fund</span>
<span class="t" style="top:201.1px;font-size:18px;line-height:21.6px;font-weight:bold;left:249.2px;transform-origin:50% 50%;transform:translateX(-50%) scaleX(0.535);">FY 2024 Beginning</span>
<span class="t" style="top:227.8px;font-size:18px;line-height:21.6px;font-weight:bold;left:249.2px;transform-origin:50% 50%;transform:translateX(-50%) scaleX(0.533);">Fund Balances</span>
<span class="t" style="top:185.8px;font-size:18px;line-height:21.6px;font-weight:bold;left:358.8px;transform-origin:50% 50%;transform:translateX(-50%) scaleX(0.548);">FY 2024 Actual</span>
<span class="t" style="top:213.1px;font-size:18px;line-height:21.6px;font-weight:bold;left:358.8px;transform-origin:50% 50%;transform:translateX(-50%) scaleX(0.533);">Revenues and</span>
<span class="t" style="top:240.1px;font-size:18px;line-height:21.6px;font-weight:bold;left:358.8px;transform-origin:50% 50%;transform:translateX(-50%) scaleX(0.538);">Transfers In</span>
<span class="t" style="top:185.9px;font-size:18px;line-height:21.6px;font-weight:bold;left:468.4px;transform-origin:50% 50%;transform:translateX(-50%) scaleX(0.548);">FY 2024 Actual</span>
<span class="t" style="top:213.2px;font-size:18px;line-height:21.6px;font-weight:bold;left:468.4px;transform-origin:50% 50%;transform:translateX(-50%) scaleX(0.542);">Expenditures and</span>
<span class="t" style="top:240.2px;font-size:18px;line-height:21.6px;font-weight:bold;left:468.4px;transform-origin:50% 50%;transform:translateX(-50%) scaleX(0.547);">Transfers Out</span>
<span class="t" style="top:201.3px;font-size:18px;line-height:21.6px;font-weight:bold;left:578.0px;transform-origin:50% 50%;transform:translateX(-50%) scaleX(0.555);">June 30, 2024 Actual</span>
<span class="t" style="top:228.0px;font-size:18px;line-height:21.6px;font-weight:bold;left:578.0px;transform-origin:50% 50%;transform:translateX(-50%) scaleX(0.527);">Fund Balances</span>
<span class="t" style="top:186.3px;font-size:18px;line-height:21.6px;font-weight:bold;left:687.7px;transform-origin:50% 50%;transform:translateX(-50%) scaleX(0.542);">FY 2025 Budget</span>
<span class="t" style="top:213.6px;font-size:18px;line-height:21.6px;font-weight:bold;left:687.7px;transform-origin:50% 50%;transform:translateX(-50%) scaleX(0.541);">Revenues and</span>
<span class="t" style="top:240.6px;font-size:18px;line-height:21.6px;font-weight:bold;left:687.7px;transform-origin:50% 50%;transform:translateX(-50%) scaleX(0.535);">Transfers In</span>
<span class="t" style="top:186.7px;font-size:18px;line-height:21.6px;font-weight:bold;left:797.7px;transform-origin:50% 50%;transform:translateX(-50%) scaleX(0.549);">FY 2025 Budget</span>
<span class="t" style="top:214.0px;font-size:18px;line-height:21.6px;font-weight:bold;left:797.7px;transform-origin:50% 50%;transform:translateX(-50%) scaleX(0.541);">Expenditures and</span>
<span class="t" style="top:241.0px;font-size:18px;line-height:21.6px;font-weight:bold;left:797.7px;transform-origin:50% 50%;transform:translateX(-50%) scaleX(0.543);">Transfers Out</span>
<span class="t" style="top:187.3px;font-size:18px;line-height:21.6px;font-weight:bold;left:907.2px;transform-origin:50% 50%;transform:translateX(-50%) scaleX(0.555);">June 30, 2025</span>
<span class="t" style="top:214.6px;font-size:18px;line-height:21.6px;font-weight:bold;left:907.2px;transform-origin:50% 50%;transform:translateX(-50%) scaleX(0.544);">Projected Fund</span>
<span class="t" style="top:241.6px;font-size:18px;line-height:21.6px;font-weight:bold;left:907.2px;transform-origin:50% 50%;transform:translateX(-50%) scaleX(0.515);">Balances</span>
<span class="t" style="top:274.4px;font-size:17.5px;line-height:21.0px;left:25.3px;transform-origin:0 50%;transform:scaleX(0.593);">General Fund/Restricted</span>
<span class="t" style="top:274.5px;font-size:16px;line-height:19.2px;right:679.5px;transform-origin:100% 50%;transform:scaleX(0.574);">9,875,244</span>
<span class="t" style="top:272.4px;font-size:19px;line-height:22.8px;-webkit-text-stroke:0.2px currentColor;left:199.4px;transform-origin:0 50%;transform:scaleX(0.440);">$</span>
<span class="t" style="top:274.5px;font-size:16px;line-height:19.2px;right:570.0px;transform-origin:100% 50%;transform:scaleX(0.574);">37,610,633</span>
<span class="t" style="top:272.4px;font-size:19px;line-height:22.8px;-webkit-text-stroke:0.2px currentColor;left:308.9px;transform-origin:0 50%;transform:scaleX(0.440);">$</span>
<span class="t" style="top:274.6px;font-size:16px;line-height:19.2px;right:460.2px;transform-origin:100% 50%;transform:scaleX(0.574);">36,186,647</span>
<span class="t" style="top:272.4px;font-size:19px;line-height:22.8px;-webkit-text-stroke:0.2px currentColor;left:418.4px;transform-origin:0 50%;transform:scaleX(0.440);">$</span>
<span class="t" style="top:274.8px;font-size:16px;line-height:19.2px;right:350.7px;transform-origin:100% 50%;transform:scaleX(0.574);">11,299,230</span>
<span class="t" style="top:272.6px;font-size:19px;line-height:22.8px;-webkit-text-stroke:0.2px currentColor;left:528.2px;transform-origin:0 50%;transform:scaleX(0.440);">$</span>
<span class="t" style="top:275.2px;font-size:16px;line-height:19.2px;right:240.9px;transform-origin:100% 50%;transform:scaleX(0.574);">37,667,514</span>
<span class="t" style="top:272.8px;font-size:19px;line-height:22.8px;-webkit-text-stroke:0.2px currentColor;left:637.7px;transform-origin:0 50%;transform:scaleX(0.440);">$</span>
<span class="t" style="top:275.7px;font-size:16px;line-height:19.2px;right:130.7px;transform-origin:100% 50%;transform:scaleX(0.574);">36,124,072</span>
<span class="t" style="top:273.1px;font-size:19px;line-height:22.8px;-webkit-text-stroke:0.2px currentColor;left:747.5px;transform-origin:0 50%;transform:scaleX(0.440);">$</span>
<span class="t" style="top:276.4px;font-size:16px;line-height:19.2px;right:21.9px;transform-origin:100% 50%;transform:scaleX(0.574);">12,842,672</span>
<span class="t" style="top:273.6px;font-size:19px;line-height:22.8px;-webkit-text-stroke:0.2px currentColor;left:857.7px;transform-origin:0 50%;transform:scaleX(0.440);">$</span>
<span class="t" style="top:304.4px;font-size:17.5px;line-height:21.0px;left:25.3px;transform-origin:0 50%;transform:scaleX(0.591);">General Fund/Other</span>
<span class="t" style="top:304.5px;font-size:16px;line-height:19.2px;right:679.5px;transform-origin:100% 50%;transform:scaleX(0.574);">8,433,358</span>
<span class="t" style="top:302.4px;font-size:19px;line-height:22.8px;-webkit-text-stroke:0.2px currentColor;left:199.4px;transform-origin:0 50%;transform:scaleX(0.440);">$</span>
<span class="t" style="top:304.5px;font-size:16px;line-height:19.2px;right:570.0px;transform-origin:100% 50%;transform:scaleX(0.574);">164,221,588</span>
<span class="t" style="top:302.4px;font-size:19px;line-height:22.8px;-webkit-text-stroke:0.2px currentColor;left:308.9px;transform-origin:0 50%;transform:scaleX(0.440);">$</span>
<span class="t" style="top:304.6px;font-size:16px;line-height:19.2px;right:460.2px;transform-origin:100% 50%;transform:scaleX(0.574);">172,539,398</span>
<span class="t" style="top:302.4px;font-size:19px;line-height:22.8px;-webkit-text-stroke:0.2px currentColor;left:418.4px;transform-origin:0 50%;transform:scaleX(0.440);">$</span>
<span class="t" style="top:304.8px;font-size:16px;line-height:19.2px;right:350.7px;transform-origin:100% 50%;transform:scaleX(0.574);">115,548</span>
<span class="t" style="top:302.6px;font-size:19px;line-height:22.8px;-webkit-text-stroke:0.2px currentColor;left:528.2px;transform-origin:0 50%;transform:scaleX(0.440);">$</span>
<span class="t" style="top:305.2px;font-size:16px;line-height:19.2px;right:240.9px;transform-origin:100% 50%;transform:scaleX(0.574);">163,885,719</span>
<span class="t" style="top:302.8px;font-size:19px;line-height:22.8px;-webkit-text-stroke:0.2px currentColor;left:637.7px;transform-origin:0 50%;transform:scaleX(0.440);">$</span>
<span class="t" style="top:305.7px;font-size:16px;line-height:19.2px;right:130.7px;transform-origin:100% 50%;transform:scaleX(0.574);">164,671,010</span>
<span class="t" style="top:303.1px;font-size:19px;line-height:22.8px;-webkit-text-stroke:0.2px currentColor;left:747.5px;transform-origin:0 50%;transform:scaleX(0.440);">$</span>
<span class="t" style="top:306.4px;font-size:16px;line-height:19.2px;right:18.8px;transform-origin:100% 50%;transform:scaleX(0.574);">(669,743)</span>
<span class="t" style="top:303.6px;font-size:19px;line-height:22.8px;-webkit-text-stroke:0.2px currentColor;left:857.7px;transform-origin:0 50%;transform:scaleX(0.440);">$</span>
<span class="t" style="top:334.1px;font-size:17.5px;line-height:21.0px;left:25.3px;transform-origin:0 50%;transform:scaleX(0.570);">Food Service Fund</span>
<span class="t" style="top:334.3px;font-size:16px;line-height:19.2px;right:679.5px;transform-origin:100% 50%;transform:scaleX(0.574);">4,655,466</span>
<span class="t" style="top:332.2px;font-size:19px;line-height:22.8px;-webkit-text-stroke:0.2px currentColor;left:199.4px;transform-origin:0 50%;transform:scaleX(0.440);">$</span>
<span class="t" style="top:334.3px;font-size:16px;line-height:19.2px;right:570.0px;transform-origin:100% 50%;transform:scaleX(0.574);">9,472,907</span>
<span class="t" style="top:332.2px;font-size:19px;line-height:22.8px;-webkit-text-stroke:0.2px currentColor;left:308.9px;transform-origin:0 50%;transform:scaleX(0.440);">$</span>
<span class="t" style="top:334.4px;font-size:16px;line-height:19.2px;right:460.2px;transform-origin:100% 50%;transform:scaleX(0.574);">9,536,211</span>
<span class="t" style="top:332.2px;font-size:19px;line-height:22.8px;-webkit-text-stroke:0.2px currentColor;left:418.4px;transform-origin:0 50%;transform:scaleX(0.440);">$</span>
<span class="t" style="top:334.6px;font-size:16px;line-height:19.2px;right:350.7px;transform-origin:100% 50%;transform:scaleX(0.574);">4,592,162</span>
<span class="t" style="top:332.3px;font-size:19px;line-height:22.8px;-webkit-text-stroke:0.2px currentColor;left:528.2px;transform-origin:0 50%;transform:scaleX(0.440);">$</span>
<span class="t" style="top:334.9px;font-size:16px;line-height:19.2px;right:240.9px;transform-origin:100% 50%;transform:scaleX(0.574);">8,454,976</span>
<span class="t" style="top:332.5px;font-size:19px;line-height:22.8px;-webkit-text-stroke:0.2px currentColor;left:637.7px;transform-origin:0 50%;transform:scaleX(0.440);">$</span>
<span class="t" style="top:335.4px;font-size:16px;line-height:19.2px;right:130.7px;transform-origin:100% 50%;transform:scaleX(0.574);">8,888,608</span>
<span class="t" style="top:332.9px;font-size:19px;line-height:22.8px;-webkit-text-stroke:0.2px currentColor;left:747.5px;transform-origin:0 50%;transform:scaleX(0.440);">$</span>
<span class="t" style="top:336.1px;font-size:16px;line-height:19.2px;right:21.9px;transform-origin:100% 50%;transform:scaleX(0.574);">4,158,530</span>
<span class="t" style="top:333.4px;font-size:19px;line-height:22.8px;-webkit-text-stroke:0.2px currentColor;left:857.7px;transform-origin:0 50%;transform:scaleX(0.440);">$</span>
<span class="t" style="top:364.0px;font-size:17.5px;line-height:21.0px;left:25.3px;transform-origin:0 50%;transform:scaleX(0.583);">Community Service Fund</span>
<span class="t" style="top:364.1px;font-size:16px;line-height:19.2px;right:679.5px;transform-origin:100% 50%;transform:scaleX(0.574);">3,374,489</span>
<span class="t" style="top:362.0px;font-size:19px;line-height:22.8px;-webkit-text-stroke:0.2px currentColor;left:199.4px;transform-origin:0 50%;transform:scaleX(0.440);">$</span>
<span class="t" style="top:364.1px;font-size:16px;line-height:19.2px;right:570.0px;transform-origin:100% 50%;transform:scaleX(0.574);">10,912,259</span>
<span class="t" style="top:362.0px;font-size:19px;line-height:22.8px;-webkit-text-stroke:0.2px currentColor;left:308.9px;transform-origin:0 50%;transform:scaleX(0.440);">$</span>
<span class="t" style="top:364.2px;font-size:16px;line-height:19.2px;right:460.2px;transform-origin:100% 50%;transform:scaleX(0.574);">10,986,396</span>
<span class="t" style="top:362.0px;font-size:19px;line-height:22.8px;-webkit-text-stroke:0.2px currentColor;left:418.4px;transform-origin:0 50%;transform:scaleX(0.440);">$</span>
<span class="t" style="top:364.4px;font-size:16px;line-height:19.2px;right:350.7px;transform-origin:100% 50%;transform:scaleX(0.574);">3,300,352</span>
<span class="t" style="top:362.2px;font-size:19px;line-height:22.8px;-webkit-text-stroke:0.2px currentColor;left:528.2px;transform-origin:0 50%;transform:scaleX(0.440);">$</span>
<span class="t" style="top:364.8px;font-size:16px;line-height:19.2px;right:240.9px;transform-origin:100% 50%;transform:scaleX(0.574);">11,164,110</span>
<span class="t" style="top:362.4px;font-size:19px;line-height:22.8px;-webkit-text-stroke:0.2px currentColor;left:637.7px;transform-origin:0 50%;transform:scaleX(0.440);">$</span>
<span class="t" style="top:365.3px;font-size:16px;line-height:19.2px;right:130.7px;transform-origin:100% 50%;transform:scaleX(0.574);">11,180,892</span>
<span class="t" style="top:362.7px;font-size:19px;line-height:22.8px;-webkit-text-stroke:0.2px currentColor;left:747.5px;transform-origin:0 50%;transform:scaleX(0.440);">$</span>
<span class="t" style="top:366.0px;font-size:16px;line-height:19.2px;right:21.9px;transform-origin:100% 50%;transform:scaleX(0.574);">3,283,570</span>
<span class="t" style="top:363.2px;font-size:19px;line-height:22.8px;-webkit-text-stroke:0.2px currentColor;left:857.7px;transform-origin:0 50%;transform:scaleX(0.440);">$</span>
<span class="t" style="top:394.2px;font-size:17.5px;line-height:21.0px;left:25.3px;transform-origin:0 50%;transform:scaleX(0.592);">Building Construction Fund</span>
<span class="t" style="top:394.3px;font-size:16px;line-height:19.2px;right:679.5px;transform-origin:100% 50%;transform:scaleX(0.574);">9,503,879</span>
<span class="t" style="top:392.2px;font-size:19px;line-height:22.8px;-webkit-text-stroke:0.2px currentColor;left:199.4px;transform-origin:0 50%;transform:scaleX(0.440);">$</span>
<span class="t" style="top:394.3px;font-size:16px;line-height:19.2px;right:570.0px;transform-origin:100% 50%;transform:scaleX(0.574);">20,317,933</span>
<span class="t" style="top:392.2px;font-size:19px;line-height:22.8px;-webkit-text-stroke:0.2px currentColor;left:308.9px;transform-origin:0 50%;transform:scaleX(0.440);">$</span>
<span class="t" style="top:394.4px;font-size:16px;line-height:19.2px;right:460.2px;transform-origin:100% 50%;transform:scaleX(0.574);">17,122,760</span>
<span class="t" style="top:392.2px;font-size:19px;line-height:22.8px;-webkit-text-stroke:0.2px currentColor;left:418.4px;transform-origin:0 50%;transform:scaleX(0.440);">$</span>
<span class="t" style="top:394.6px;font-size:16px;line-height:19.2px;right:350.7px;transform-origin:100% 50%;transform:scaleX(0.574);">12,699,052</span>
<span class="t" style="top:392.4px;font-size:19px;line-height:22.8px;-webkit-text-stroke:0.2px currentColor;left:528.2px;transform-origin:0 50%;transform:scaleX(0.440);">$</span>
<span class="t" style="top:395.0px;font-size:16px;line-height:19.2px;right:240.9px;transform-origin:100% 50%;transform:scaleX(0.574);">19,754,500</span>
<span class="t" style="top:392.6px;font-size:19px;line-height:22.8px;-webkit-text-stroke:0.2px currentColor;left:637.7px;transform-origin:0 50%;transform:scaleX(0.440);">$</span>
<span class="t" style="top:395.5px;font-size:16px;line-height:19.2px;right:130.7px;transform-origin:100% 50%;transform:scaleX(0.574);">18,587,167</span>
<span class="t" style="top:392.9px;font-size:19px;line-height:22.8px;-webkit-text-stroke:0.2px currentColor;left:747.5px;transform-origin:0 50%;transform:scaleX(0.440);">$</span>
<span class="t" style="top:396.2px;font-size:16px;line-height:19.2px;right:21.9px;transform-origin:100% 50%;transform:scaleX(0.574);">13,866,385</span>
<span class="t" style="top:393.4px;font-size:19px;line-height:22.8px;-webkit-text-stroke:0.2px currentColor;left:857.7px;transform-origin:0 50%;transform:scaleX(0.440);">$</span>
<span class="t" style="top:424.0px;font-size:17.5px;line-height:21.0px;left:25.3px;transform-origin:0 50%;transform:scaleX(0.571);">Debt Service Fund</span>
<span class="t" style="top:424.2px;font-size:16px;line-height:19.2px;right:679.5px;transform-origin:100% 50%;transform:scaleX(0.574);">1,472,162</span>
<span class="t" style="top:422.1px;font-size:19px;line-height:22.8px;-webkit-text-stroke:0.2px currentColor;left:199.4px;transform-origin:0 50%;transform:scaleX(0.440);">$</span>
<span class="t" style="top:424.2px;font-size:16px;line-height:19.2px;right:570.0px;transform-origin:100% 50%;transform:scaleX(0.574);">20,460,449</span>
<span class="t" style="top:422.1px;font-size:19px;line-height:22.8px;-webkit-text-stroke:0.2px currentColor;left:308.9px;transform-origin:0 50%;transform:scaleX(0.440);">$</span>
<span class="t" style="top:424.3px;font-size:16px;line-height:19.2px;right:460.2px;transform-origin:100% 50%;transform:scaleX(0.574);">20,356,268</span>
<span class="t" style="top:422.1px;font-size:19px;line-height:22.8px;-webkit-text-stroke:0.2px currentColor;left:418.4px;transform-origin:0 50%;transform:scaleX(0.440);">$</span>
<span class="t" style="top:424.5px;font-size:16px;line-height:19.2px;right:350.7px;transform-origin:100% 50%;transform:scaleX(0.574);">1,576,343</span>
<span class="t" style="top:422.2px;font-size:19px;line-height:22.8px;-webkit-text-stroke:0.2px currentColor;left:528.2px;transform-origin:0 50%;transform:scaleX(0.440);">$</span>
<span class="t" style="top:424.8px;font-size:16px;line-height:19.2px;right:240.9px;transform-origin:100% 50%;transform:scaleX(0.574);">22,538,584</span>
<span class="t" style="top:422.4px;font-size:19px;line-height:22.8px;-webkit-text-stroke:0.2px currentColor;left:637.7px;transform-origin:0 50%;transform:scaleX(0.440);">$</span>
<span class="t" style="top:425.3px;font-size:16px;line-height:19.2px;right:130.7px;transform-origin:100% 50%;transform:scaleX(0.574);">22,400,905</span>
<span class="t" style="top:422.8px;font-size:19px;line-height:22.8px;-webkit-text-stroke:0.2px currentColor;left:747.5px;transform-origin:0 50%;transform:scaleX(0.440);">$</span>
<span class="t" style="top:426.0px;font-size:16px;line-height:19.2px;right:21.9px;transform-origin:100% 50%;transform:scaleX(0.574);">1,714,022</span>
<span class="t" style="top:423.3px;font-size:19px;line-height:22.8px;-webkit-text-stroke:0.2px currentColor;left:857.7px;transform-origin:0 50%;transform:scaleX(0.440);">$</span>
<span class="t" style="top:453.8px;font-size:17.5px;line-height:21.0px;left:25.3px;transform-origin:0 50%;transform:scaleX(0.578);">Trust Fund</span>
<span class="t" style="top:454.2px;font-size:16px;line-height:19.2px;color:#2a3340;-webkit-text-stroke:0.15px currentColor;right:678.6px;transform-origin:100% 50%;transform:scaleX(0.660);">-</span>
<span class="t" style="top:451.8px;font-size:19px;line-height:22.8px;-webkit-text-stroke:0.2px currentColor;left:199.4px;transform-origin:0 50%;transform:scaleX(0.440);">$</span>
<span class="t" style="top:454.2px;font-size:16px;line-height:19.2px;color:#2a3340;-webkit-text-stroke:0.15px currentColor;right:569.1px;transform-origin:100% 50%;transform:scaleX(0.660);">-</span>
<span class="t" style="top:451.8px;font-size:19px;line-height:22.8px;-webkit-text-stroke:0.2px currentColor;left:308.9px;transform-origin:0 50%;transform:scaleX(0.440);">$</span>
<span class="t" style="top:454.3px;font-size:16px;line-height:19.2px;color:#2a3340;-webkit-text-stroke:0.15px currentColor;right:459.3px;transform-origin:100% 50%;transform:scaleX(0.660);">-</span>
<span class="t" style="top:451.8px;font-size:19px;line-height:22.8px;-webkit-text-stroke:0.2px currentColor;left:418.4px;transform-origin:0 50%;transform:scaleX(0.440);">$</span>
<span class="t" style="top:454.5px;font-size:16px;line-height:19.2px;color:#2a3340;-webkit-text-stroke:0.15px currentColor;right:349.8px;transform-origin:100% 50%;transform:scaleX(0.660);">-</span>
<span class="t" style="top:452.0px;font-size:19px;line-height:22.8px;-webkit-text-stroke:0.2px currentColor;left:528.2px;transform-origin:0 50%;transform:scaleX(0.440);">$</span>
<span class="t" style="top:454.9px;font-size:16px;line-height:19.2px;color:#2a3340;-webkit-text-stroke:0.15px currentColor;right:240.0px;transform-origin:100% 50%;transform:scaleX(0.660);">-</span>
<span class="t" style="top:452.2px;font-size:19px;line-height:22.8px;-webkit-text-stroke:0.2px currentColor;left:637.7px;transform-origin:0 50%;transform:scaleX(0.440);">$</span>
<span class="t" style="top:455.4px;font-size:16px;line-height:19.2px;color:#2a3340;-webkit-text-stroke:0.15px currentColor;right:129.8px;transform-origin:100% 50%;transform:scaleX(0.660);">-</span>
<span class="t" style="top:452.5px;font-size:19px;line-height:22.8px;-webkit-text-stroke:0.2px currentColor;left:747.5px;transform-origin:0 50%;transform:scaleX(0.440);">$</span>
<span class="t" style="top:456.1px;font-size:16px;line-height:19.2px;color:#2a3340;-webkit-text-stroke:0.15px currentColor;right:21.0px;transform-origin:100% 50%;transform:scaleX(0.660);">-</span>
<span class="t" style="top:453.0px;font-size:19px;line-height:22.8px;-webkit-text-stroke:0.2px currentColor;left:857.7px;transform-origin:0 50%;transform:scaleX(0.440);">$</span>
<span class="t" style="top:483.4px;font-size:17.5px;line-height:21.0px;left:25.3px;transform-origin:0 50%;transform:scaleX(0.581);">Internal Service Fund</span>
<span class="t" style="top:483.6px;font-size:16px;line-height:19.2px;right:679.5px;transform-origin:100% 50%;transform:scaleX(0.574);">130,656</span>
<span class="t" style="top:481.5px;font-size:19px;line-height:22.8px;-webkit-text-stroke:0.2px currentColor;left:199.4px;transform-origin:0 50%;transform:scaleX(0.440);">$</span>
<span class="t" style="top:483.9px;font-size:16px;line-height:19.2px;right:347.6px;transform-origin:100% 50%;transform:scaleX(0.574);">(446,814)</span>
<span class="t" style="top:481.6px;font-size:19px;line-height:22.8px;-webkit-text-stroke:0.2px currentColor;left:528.2px;transform-origin:0 50%;transform:scaleX(0.440);">$</span>
<span class="t" style="top:485.5px;font-size:16px;line-height:19.2px;right:18.8px;transform-origin:100% 50%;transform:scaleX(0.574);">(33,943)</span>
<span class="t" style="top:482.7px;font-size:19px;line-height:22.8px;-webkit-text-stroke:0.2px currentColor;left:857.7px;transform-origin:0 50%;transform:scaleX(0.440);">$</span>
<span class="t" style="top:513.1px;font-size:17.5px;line-height:21.0px;left:26.0px;transform-origin:0 50%;transform:scaleX(0.568);">* OPEB Revocable Trust Fund</span>
<span class="t" style="top:513.5px;font-size:16px;line-height:19.2px;color:#2a3340;-webkit-text-stroke:0.15px currentColor;right:678.6px;transform-origin:100% 50%;transform:scaleX(0.660);">-</span>
<span class="t" style="top:511.1px;font-size:19px;line-height:22.8px;-webkit-text-stroke:0.2px currentColor;left:199.4px;transform-origin:0 50%;transform:scaleX(0.440);">$</span>
<span class="t" style="top:513.5px;font-size:16px;line-height:19.2px;color:#2a3340;-webkit-text-stroke:0.15px currentColor;right:569.1px;transform-origin:100% 50%;transform:scaleX(0.660);">-</span>
<span class="t" style="top:511.1px;font-size:19px;line-height:22.8px;-webkit-text-stroke:0.2px currentColor;left:308.9px;transform-origin:0 50%;transform:scaleX(0.440);">$</span>
<span class="t" style="top:513.6px;font-size:16px;line-height:19.2px;color:#2a3340;-webkit-text-stroke:0.15px currentColor;right:459.3px;transform-origin:100% 50%;transform:scaleX(0.660);">-</span>
<span class="t" style="top:511.1px;font-size:19px;line-height:22.8px;-webkit-text-stroke:0.2px currentColor;left:418.4px;transform-origin:0 50%;transform:scaleX(0.440);">$</span>
<span class="t" style="top:513.8px;font-size:16px;line-height:19.2px;color:#2a3340;-webkit-text-stroke:0.15px currentColor;right:349.8px;transform-origin:100% 50%;transform:scaleX(0.660);">-</span>
<span class="t" style="top:511.3px;font-size:19px;line-height:22.8px;-webkit-text-stroke:0.2px currentColor;left:528.2px;transform-origin:0 50%;transform:scaleX(0.440);">$</span>
<span class="t" style="top:514.2px;font-size:16px;line-height:19.2px;color:#2a3340;-webkit-text-stroke:0.15px currentColor;right:240.0px;transform-origin:100% 50%;transform:scaleX(0.660);">-</span>
<span class="t" style="top:511.5px;font-size:19px;line-height:22.8px;-webkit-text-stroke:0.2px currentColor;left:637.7px;transform-origin:0 50%;transform:scaleX(0.440);">$</span>
<span class="t" style="top:514.7px;font-size:16px;line-height:19.2px;color:#2a3340;-webkit-text-stroke:0.15px currentColor;right:129.8px;transform-origin:100% 50%;transform:scaleX(0.660);">-</span>
<span class="t" style="top:511.8px;font-size:19px;line-height:22.8px;-webkit-text-stroke:0.2px currentColor;left:747.5px;transform-origin:0 50%;transform:scaleX(0.440);">$</span>
<span class="t" style="top:515.4px;font-size:16px;line-height:19.2px;color:#2a3340;-webkit-text-stroke:0.15px currentColor;right:21.0px;transform-origin:100% 50%;transform:scaleX(0.660);">-</span>
<span class="t" style="top:512.3px;font-size:19px;line-height:22.8px;-webkit-text-stroke:0.2px currentColor;left:857.7px;transform-origin:0 50%;transform:scaleX(0.440);">$</span>
<span class="t" style="top:542.6px;font-size:17.5px;line-height:21.0px;left:25.3px;transform-origin:0 50%;transform:scaleX(0.575);">OPEB Irrevocable Trust Fund</span>
<span class="t" style="top:542.8px;font-size:16px;line-height:19.2px;right:679.5px;transform-origin:100% 50%;transform:scaleX(0.574);">13,012,718</span>
<span class="t" style="top:540.7px;font-size:19px;line-height:22.8px;-webkit-text-stroke:0.2px currentColor;left:199.4px;transform-origin:0 50%;transform:scaleX(0.440);">$</span>
<span class="t" style="top:542.8px;font-size:16px;line-height:19.2px;right:570.0px;transform-origin:100% 50%;transform:scaleX(0.574);">1,131,423</span>
<span class="t" style="top:540.7px;font-size:19px;line-height:22.8px;-webkit-text-stroke:0.2px currentColor;left:308.9px;transform-origin:0 50%;transform:scaleX(0.440);">$</span>
<span class="t" style="top:542.9px;font-size:16px;line-height:19.2px;right:460.2px;transform-origin:100% 50%;transform:scaleX(0.574);">1,526,633</span>
<span class="t" style="top:540.7px;font-size:19px;line-height:22.8px;-webkit-text-stroke:0.2px currentColor;left:418.4px;transform-origin:0 50%;transform:scaleX(0.440);">$</span>
<span class="t" style="top:543.1px;font-size:16px;line-height:19.2px;right:350.7px;transform-origin:100% 50%;transform:scaleX(0.574);">12,617,508</span>
<span class="t" style="top:540.8px;font-size:19px;line-height:22.8px;-webkit-text-stroke:0.2px currentColor;left:528.2px;transform-origin:0 50%;transform:scaleX(0.440);">$</span>
<span class="t" style="top:543.4px;font-size:16px;line-height:19.2px;right:240.9px;transform-origin:100% 50%;transform:scaleX(0.574);">750,000</span>
<span class="t" style="top:541.0px;font-size:19px;line-height:22.8px;-webkit-text-stroke:0.2px currentColor;left:637.7px;transform-origin:0 50%;transform:scaleX(0.440);">$</span>
<span class="t" style="top:543.9px;font-size:16px;line-height:19.2px;right:130.7px;transform-origin:100% 50%;transform:scaleX(0.574);">1,550,000</span>
<span class="t" style="top:541.4px;font-size:19px;line-height:22.8px;-webkit-text-stroke:0.2px currentColor;left:747.5px;transform-origin:0 50%;transform:scaleX(0.440);">$</span>
<span class="t" style="top:544.6px;font-size:16px;line-height:19.2px;right:21.9px;transform-origin:100% 50%;transform:scaleX(0.574);">11,817,508</span>
<span class="t" style="top:541.9px;font-size:19px;line-height:22.8px;-webkit-text-stroke:0.2px currentColor;left:857.7px;transform-origin:0 50%;transform:scaleX(0.440);">$</span>
<span class="t" style="top:572.1px;font-size:17.5px;line-height:21.0px;left:25.3px;transform-origin:0 50%;transform:scaleX(0.557);">OPEB Debt Service Fund</span>
<span class="t" style="top:572.2px;font-size:16px;line-height:19.2px;right:679.5px;transform-origin:100% 50%;transform:scaleX(0.574);">497,528</span>
<span class="t" style="top:570.1px;font-size:19px;line-height:22.8px;-webkit-text-stroke:0.2px currentColor;left:199.4px;transform-origin:0 50%;transform:scaleX(0.440);">$</span>
<span class="t" style="top:572.2px;font-size:16px;line-height:19.2px;right:570.0px;transform-origin:100% 50%;transform:scaleX(0.574);">3,309,121</span>
<span class="t" style="top:570.1px;font-size:19px;line-height:22.8px;-webkit-text-stroke:0.2px currentColor;left:308.9px;transform-origin:0 50%;transform:scaleX(0.440);">$</span>
<span class="t" style="top:572.3px;font-size:16px;line-height:19.2px;right:460.2px;transform-origin:100% 50%;transform:scaleX(0.574);">2,601,613</span>
<span class="t" style="top:570.1px;font-size:19px;line-height:22.8px;-webkit-text-stroke:0.2px currentColor;left:418.4px;transform-origin:0 50%;transform:scaleX(0.440);">$</span>
<span class="t" style="top:572.5px;font-size:16px;line-height:19.2px;right:350.7px;transform-origin:100% 50%;transform:scaleX(0.574);">1,205,036</span>
<span class="t" style="top:570.2px;font-size:19px;line-height:22.8px;-webkit-text-stroke:0.2px currentColor;left:528.2px;transform-origin:0 50%;transform:scaleX(0.440);">$</span>
<span class="t" style="top:572.8px;font-size:16px;line-height:19.2px;right:240.9px;transform-origin:100% 50%;transform:scaleX(0.574);">1,681,423</span>
<span class="t" style="top:570.4px;font-size:19px;line-height:22.8px;-webkit-text-stroke:0.2px currentColor;left:637.7px;transform-origin:0 50%;transform:scaleX(0.440);">$</span>
<span class="t" style="top:573.3px;font-size:16px;line-height:19.2px;right:130.7px;transform-origin:100% 50%;transform:scaleX(0.574);">1,756,500</span>
<span class="t" style="top:570.8px;font-size:19px;line-height:22.8px;-webkit-text-stroke:0.2px currentColor;left:747.5px;transform-origin:0 50%;transform:scaleX(0.440);">$</span>
<span class="t" style="top:574.0px;font-size:16px;line-height:19.2px;right:21.9px;transform-origin:100% 50%;transform:scaleX(0.574);">1,129,959</span>
<span class="t" style="top:571.3px;font-size:19px;line-height:22.8px;-webkit-text-stroke:0.2px currentColor;left:857.7px;transform-origin:0 50%;transform:scaleX(0.440);">$</span>
<span class="t" style="top:602.1px;font-size:18px;line-height:21.6px;font-weight:bold;left:109.2px;transform-origin:50% 50%;transform:translateX(-50%) scaleX(0.542);">Total - All Funds</span>
<span class="t" style="top:602.5px;font-size:16px;line-height:19.2px;right:679.5px;transform-origin:100% 50%;transform:scaleX(0.574);">50,955,500</span>
<span class="t" style="top:600.4px;font-size:19px;line-height:22.8px;-webkit-text-stroke:0.2px currentColor;left:199.4px;transform-origin:0 50%;transform:scaleX(0.440);">$</span>
<span class="t" style="top:602.5px;font-size:16px;line-height:19.2px;right:570.0px;transform-origin:100% 50%;transform:scaleX(0.574);">267,436,313</span>
<span class="t" style="top:600.4px;font-size:19px;line-height:22.8px;-webkit-text-stroke:0.2px currentColor;left:308.9px;transform-origin:0 50%;transform:scaleX(0.440);">$</span>
<span class="t" style="top:602.6px;font-size:16px;line-height:19.2px;right:460.2px;transform-origin:100% 50%;transform:scaleX(0.574);">270,855,926</span>
<span class="t" style="top:600.4px;font-size:19px;line-height:22.8px;-webkit-text-stroke:0.2px currentColor;left:418.4px;transform-origin:0 50%;transform:scaleX(0.440);">$</span>
<span class="t" style="top:602.8px;font-size:16px;line-height:19.2px;right:350.7px;transform-origin:100% 50%;transform:scaleX(0.574);">46,958,417</span>
<span class="t" style="top:600.5px;font-size:19px;line-height:22.8px;-webkit-text-stroke:0.2px currentColor;left:528.2px;transform-origin:0 50%;transform:scaleX(0.440);">$</span>
<span class="t" style="top:603.6px;font-size:16px;line-height:19.2px;right:130.7px;transform-origin:100% 50%;transform:scaleX(0.574);">265,159,154</span>
<span class="t" style="top:601.1px;font-size:19px;line-height:22.8px;-webkit-text-stroke:0.2px currentColor;left:747.5px;transform-origin:0 50%;transform:scaleX(0.440);">$</span>
<span class="t" style="top:604.3px;font-size:16px;line-height:19.2px;right:21.9px;transform-origin:100% 50%;transform:scaleX(0.574);">48,108,960</span>
<span class="t" style="top:601.6px;font-size:19px;line-height:22.8px;-webkit-text-stroke:0.2px currentColor;left:857.7px;transform-origin:0 50%;transform:scaleX(0.440);">$</span>
<span class="t" style="top:653.4px;font-size:19px;line-height:22.8px;font-weight:bold;left:163.7px;transform-origin:50% 50%;transform:translateX(-50%) scaleX(0.573);">Long-Term Debt</span>
<span class="t" style="top:710.3px;font-size:17px;line-height:20.4px;left:25.3px;transform-origin:0 50%;transform:scaleX(0.601);">Outstanding July 1, 2023</span>
<span class="t" style="top:710.3px;font-size:16px;line-height:19.2px;right:679.8px;transform-origin:100% 50%;transform:scaleX(0.562);">196,233,553</span>
<span class="t" style="top:708.2px;font-size:19px;line-height:22.8px;-webkit-text-stroke:0.2px currentColor;left:199.9px;transform-origin:0 50%;transform:scaleX(0.440);">$</span>
<span class="t" style="top:746.0px;font-size:17px;line-height:20.4px;left:25.3px;transform-origin:0 50%;transform:scaleX(0.575);">Plus: New Issues</span>
<span class="t" style="top:746.0px;font-size:16px;line-height:19.2px;right:679.8px;transform-origin:100% 50%;transform:scaleX(0.556);">19,260,000</span>
<span class="t" style="top:743.9px;font-size:19px;line-height:22.8px;-webkit-text-stroke:0.2px currentColor;left:199.9px;transform-origin:0 50%;transform:scaleX(0.440);">$</span>
<span class="t" style="top:802.0px;font-size:17px;line-height:20.4px;left:25.3px;transform-origin:0 50%;transform:scaleX(0.568);">Less: Redemeed Issues</span>
<span class="t" style="top:802.0px;font-size:16px;line-height:19.2px;right:679.8px;transform-origin:100% 50%;transform:scaleX(0.567);">16,354,401</span>
<span class="t" style="top:799.9px;font-size:19px;line-height:22.8px;-webkit-text-stroke:0.2px currentColor;left:199.9px;transform-origin:0 50%;transform:scaleX(0.440);">$</span>
<span class="t" style="top:827.7px;font-size:17px;line-height:20.4px;left:25.3px;transform-origin:0 50%;transform:scaleX(0.598);">Outstanding June 30, 2024</span>
<span class="t" style="top:827.1px;font-size:17px;line-height:20.4px;right:679.8px;transform-origin:100% 50%;transform:scaleX(0.607);">199,139,152</span>
<span class="t" style="top:825.6px;font-size:19px;line-height:22.8px;-webkit-text-stroke:0.2px currentColor;left:199.9px;transform-origin:0 50%;transform:scaleX(0.440);">$</span>
<span class="t" style="top:862.1px;font-size:18px;line-height:21.6px;font-weight:bold;left:163.6px;transform-origin:50% 50%;transform:translateX(-50%) scaleX(0.568);">Short-Term Debt</span>
<span class="t" style="top:903.5px;font-size:17px;line-height:20.4px;left:25.3px;transform-origin:0 50%;transform:scaleX(0.612);">Certificates of Indebtedness</span>
<span class="t" style="top:914.8px;font-size:19px;line-height:22.8px;-webkit-text-stroke:0.2px currentColor;left:199.5px;transform-origin:0 50%;transform:scaleX(0.440);">$</span>
<span class="t" style="top:916.1px;font-size:16px;line-height:19.2px;right:690.5px;transform-origin:100% 50%;transform:scaleX(0.517);">-</span>
<span class="t" style="top:943.5px;font-size:17px;line-height:20.4px;left:25.3px;transform-origin:0 50%;transform:scaleX(0.613);">Other Short-Term Indebtedness</span>
<span class="t" style="top:942.3px;font-size:19px;line-height:22.8px;-webkit-text-stroke:0.2px currentColor;left:199.5px;transform-origin:0 50%;transform:scaleX(0.440);">$</span>
<span class="t" style="top:943.9px;font-size:16px;line-height:19.2px;right:690.5px;transform-origin:100% 50%;transform:scaleX(0.517);">-</span>
<span class="t" style="top:625.4px;font-size:18px;line-height:21.6px;font-weight:bold;left:577.7px;transform-origin:50% 50%;transform:translateX(-50%) scaleX(0.557);">Current Statutory Operating Debt per Minnesota Statutes, section</span>
<span class="t" style="top:652.7px;font-size:18px;line-height:21.6px;font-weight:bold;left:578.0px;transform-origin:50% 50%;transform:translateX(-50%) scaleX(0.550);">123B.81</span>
<span class="t" style="top:682.1px;font-size:18px;line-height:21.6px;left:577.8px;transform-origin:50% 50%;transform:translateX(-50%) scaleX(0.578);">Amount of General Fund Deficit, if any, in excess of 2.5% of</span>
<span class="t" style="top:708.7px;font-size:18px;line-height:21.6px;left:578.3px;transform-origin:50% 50%;transform:translateX(-50%) scaleX(0.595);">expenditures 06/30/2024</span>
<span class="t" style="top:800.4px;font-size:18px;line-height:21.6px;font-weight:bold;left:578.5px;transform-origin:50% 50%;transform:translateX(-50%) scaleX(0.568);">Cost per student - Average Daily Membership (ADM) 06/30/2024</span>
<span class="t" style="top:862.1px;font-size:18px;line-height:21.6px;left:578.3px;transform-origin:50% 50%;transform:translateX(-50%) scaleX(0.583);">Total Operating Expenditures</span>
<span class="t" style="top:888.7px;font-size:18px;line-height:21.6px;left:577.7px;transform-origin:50% 50%;transform:translateX(-50%) scaleX(0.574);">FY 2024 Total ADM Served + Tuitioned Out ADM + Adjusted Extended</span>
<span class="t" style="top:915.4px;font-size:18px;line-height:21.6px;left:578.0px;transform-origin:50% 50%;transform:translateX(-50%) scaleX(0.565);">ADM</span>
<span class="t" style="top:943.1px;font-size:18px;line-height:21.6px;left:578.3px;transform-origin:50% 50%;transform:translateX(-50%) scaleX(0.563);">FY 2024 Operating Cost per ADM</span>
<span class="t" style="top:712.1px;font-size:21px;line-height:25.2px;-webkit-text-stroke:0.4px currentColor;left:748.9px;transform-origin:0 50%;transform:scaleX(0.500);">$</span>
<span class="t" style="top:715.6px;font-size:16px;line-height:19.2px;right:33.5px;transform-origin:100% 50%;transform:scaleX(0.517);">-</span>
<span class="t" style="top:856.6px;font-size:21px;line-height:25.2px;-webkit-text-stroke:0.4px currentColor;left:748.9px;transform-origin:0 50%;transform:scaleX(0.500);">$</span>
<span class="t" style="top:859.2px;font-size:18px;line-height:21.6px;right:22.1px;transform-origin:100% 50%;transform:scaleX(0.575);">219,252,263.00</span>
<span class="t" style="top:904.3px;font-size:18px;line-height:21.6px;right:22.1px;transform-origin:100% 50%;transform:scaleX(0.576);">10,445.33</span>
<span class="t" style="top:940.6px;font-size:21px;line-height:25.2px;-webkit-text-stroke:0.4px currentColor;left:748.9px;transform-origin:0 50%;transform:scaleX(0.500);">$</span>
<span class="t" style="top:943.3px;font-size:18px;line-height:21.6px;right:22.1px;transform-origin:100% 50%;transform:scaleX(0.576);">20,990.46</span>
<span class="t" style="top:970.4px;font-size:17.5px;line-height:21.0px;font-weight:bold;font-style:italic;left:25.2px;transform-origin:0 50%;transform:scaleX(0.568);">The complete budget may be inspected upon request to the superintendent.</span>
<span class="t" style="top:998.7px;font-size:16.5px;line-height:19.8px;left:25.2px;transform-origin:0 50%;transform:scaleX(0.635);">Comments:</span>
<span class="t" style="top:1024.3px;font-size:16.5px;line-height:19.8px;left:25.2px;transform-origin:0 50%;transform:scaleX(0.626);">FY 2024 information based on unaudited numbers available in MDE submission 11/10/2024.  FY 25 revenue and expense budgets are subject to change.</span>
</div>
<div class="pt" style="top:1100.5px;font-size:19px;line-height:22.4px;letter-spacing:0.15px;color:#222">Published in the<br>Sun Sailor, Sun Post<br>November 21, 2024<br>1433884</div>
</body></html>
